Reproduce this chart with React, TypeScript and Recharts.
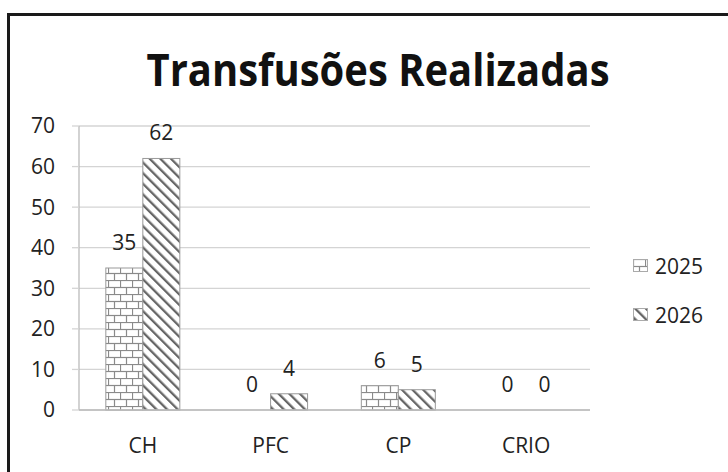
import React from 'react';
import { BarChart, Bar, XAxis, YAxis, CartesianGrid } from 'recharts';

const categories = ['CH', 'PFC', 'CP', 'CRIO'];
const values2025 = [35, 0, 6, 0];
const values2026 = [62, 4, 5, 0];
const yTicks = [0, 10, 20, 30, 40, 50, 60, 70];
const seriesNames = ['2025', '2026'];
const titleText = 'Transfusões Realizadas';

const data = categories.map((c, i) => ({ name: c, s2025: values2025[i], s2026: values2026[i] }));

const FONT = "'Open Sans', 'Noto Sans', sans-serif";
const TEXT = '#222';

const Patterns = () => (
  <defs>
    <pattern id="brick" patternUnits="userSpaceOnUse" width="12" height="14">
      <rect x="0" y="0" width="12" height="14" fill="#fff" />
      <line x1="0" y1="0.5" x2="12" y2="0.5" stroke="#8a8a8a" strokeWidth="1.2" />
      <line x1="0" y1="7.5" x2="12" y2="7.5" stroke="#8a8a8a" strokeWidth="1.2" />
      <line x1="0.5" y1="0" x2="0.5" y2="7.5" stroke="#8a8a8a" strokeWidth="1.2" />
      <line x1="6.5" y1="7.5" x2="6.5" y2="14" stroke="#8a8a8a" strokeWidth="1.2" />
    </pattern>
    <pattern id="hatch" patternUnits="userSpaceOnUse" width="7.5" height="7.5" patternTransform="rotate(-45)">
      <rect x="0" y="0" width="7.5" height="7.5" fill="#fff" />
      <rect x="0" y="0" width="2.3" height="7.5" fill="#666" />
    </pattern>
  </defs>
);

const fills = ['url(#brick)', 'url(#hatch)'];

const makeShape = (fill: string) => (props: any) => {
  const { x, y, width, height, value } = props;
  const v = Array.isArray(value) ? value[1] - value[0] : value;
  const h = Math.max(0, height || 0);
  return (
    <g>
      {h > 0 && <rect x={x} y={y} width={width} height={h} fill={fill} stroke="#999" strokeWidth={1} />}
      <text x={x + width / 2} y={y - 18} textAnchor="middle" fontSize={21} fontFamily={FONT} fill={TEXT}>
        {v}
      </text>
    </g>
  );
};

const LegendBlock = () => (
  <div style={{ position: 'absolute', left: 633, top: 241, fontFamily: FONT, fontSize: 21, color: TEXT }}>
    {seriesNames.map((n, i) => (
      <div key={n} style={{ display: 'flex', alignItems: 'center', height: 49 }}>
        <svg width="15" height="13" style={{ marginRight: 7 }}>
          <rect x="0.5" y="0.5" width="14" height="12" fill={fills[i]} stroke="#aaa" strokeWidth="1" />
        </svg>
        <span>{n}</span>
      </div>
    ))}
  </div>
);

export default function App() {
  return (
    <div style={{ position: 'absolute', left: 0, top: 0, width: 728, height: 472, overflow: 'hidden', background: '#fff' }}>
      <div style={{ position: 'absolute', left: 7, top: 13, width: 760, height: 520, border: '3px solid #1a1a1a' }} />
      <svg width="728" height="472" style={{ position: 'absolute', left: 0, top: 0, pointerEvents: 'none' }}>
        <text x={378} y={86} textAnchor="middle" fontFamily={FONT} fontWeight={700} fontSize={45} fill="#111" textLength={463} lengthAdjust="spacingAndGlyphs">
          {titleText}
        </text>
      </svg>
      <div style={{ position: 'absolute', left: 0, top: 0 }}>
        <BarChart width={728} height={472} data={data} margin={{ top: 126, right: 138, bottom: 2, left: 0 }} barCategoryGap="21%" barGap={0} style={{ fontFamily: FONT }}>
          <Patterns />
          <CartesianGrid horizontal={true} vertical={false} stroke="#d4d4d4" strokeWidth={1.3} />
          <XAxis dataKey="name" height={60} axisLine={{ stroke: '#bbb', strokeWidth: 1.3 }} tickLine={false} tickSize={0} tickMargin={28} tick={{ fontSize: 21, fill: TEXT, fontFamily: FONT }} interval={0} />
          <YAxis width={79} domain={[0, 70]} ticks={yTicks} interval={0} axisLine={{ stroke: '#bbb', strokeWidth: 1.3 }} tickLine={{ stroke: '#d4d4d4', strokeWidth: 1.3 }} tickSize={7} tickMargin={17} tick={{ fontSize: 21, fill: TEXT, fontFamily: FONT }} />
          <Bar dataKey="s2025" name={seriesNames[0]} fill={fills[0]} isAnimationActive={false} shape={makeShape(fills[0])} />
          <Bar dataKey="s2026" name={seriesNames[1]} fill={fills[1]} isAnimationActive={false} shape={makeShape(fills[1])} />
        </BarChart>
      </div>
      <LegendBlock />
    </div>
  );
}
